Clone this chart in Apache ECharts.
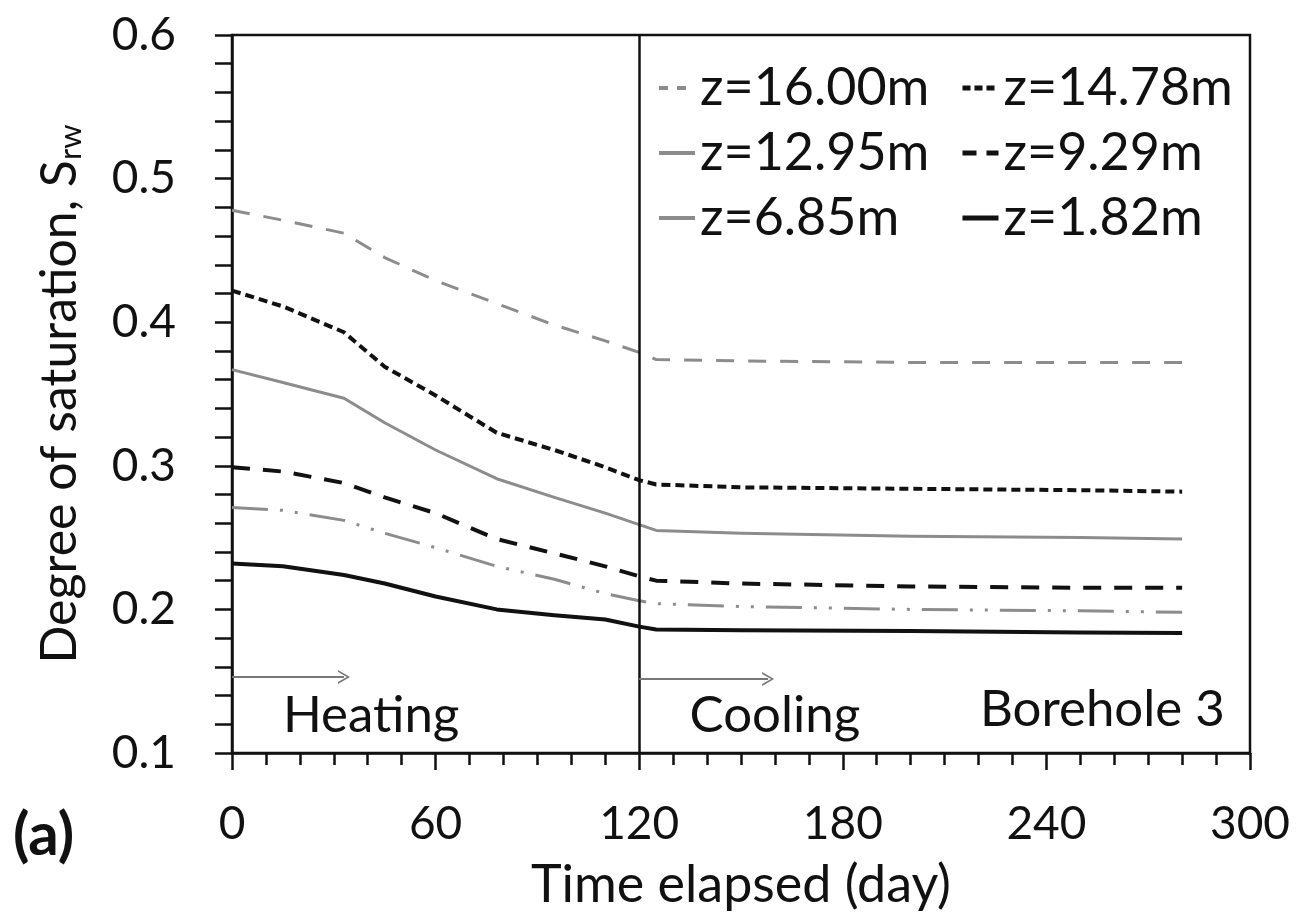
<!DOCTYPE html>
<html>
<head>
<meta charset="utf-8">
<script src="https://cdn.jsdelivr.net/npm/echarts@6/dist/echarts.min.js"></script>
<style>
html,body{margin:0;padding:0;background:#fff;}
#c{width:1304px;height:917px;}
</style>
</head>
<body>
<div id="c"></div>
<script>
// Time (day)
const time = [0, 15, 33, 45, 60, 78, 95, 110, 120, 125, 150, 200, 250, 280];
// Degree of saturation per depth
const z1600 = [0.478, 0.471, 0.462, 0.445, 0.429, 0.413, 0.398, 0.387, 0.379, 0.374, 0.373, 0.372, 0.372, 0.372];
const z1478 = [0.422, 0.411, 0.393, 0.369, 0.349, 0.323, 0.311, 0.299, 0.290, 0.287, 0.285, 0.284, 0.283, 0.282];
const z1295 = [0.367, 0.358, 0.347, 0.330, 0.311, 0.291, 0.278, 0.267, 0.259, 0.255, 0.253, 0.251, 0.250, 0.249];
const z929  = [0.299, 0.296, 0.288, 0.278, 0.267, 0.249, 0.239, 0.230, 0.223, 0.220, 0.218, 0.216, 0.215, 0.215];
const z685  = [0.271, 0.269, 0.262, 0.253, 0.243, 0.230, 0.221, 0.211, 0.206, 0.204, 0.202, 0.200, 0.199, 0.198];
const z182  = [0.232, 0.230, 0.224, 0.218, 0.209, 0.200, 0.196, 0.193, 0.188, 0.186, 0.1855, 0.185, 0.184, 0.1835];
const seriesNames = ['z=16.00m', 'z=14.78m', 'z=12.95m', 'z=9.29m', 'z=6.85m', 'z=1.82m'];
const xTicks = [0, 60, 120, 180, 240, 300];
const yTicks = [0.1, 0.2, 0.3, 0.4, 0.5, 0.6];
const phaseLabels = ['Heating', 'Cooling', 'Borehole 3'];

const GRAY = '#8c8c8c', BLACK = '#111';
const FONT = 'Lato';
function pairs(vals){ return time.map((t,i)=>[t, vals[i]]); }

const styles = [
  {data: z1600, color: GRAY, width: 3, type: [18, 14], legendType: [9, 9]},
  {data: z1478, color: BLACK, width: 4, type: [9, 5], legendType: [8, 4]},
  {data: z1295, color: GRAY, width: 3, type: 'solid', legendType: 'solid'},
  {data: z929, color: BLACK, width: 4, type: [18, 13], legendType: [14, 10]},
  {data: z685, color: GRAY, width: 3, type: [36, 12, 3, 12, 3, 12], legendType: 'solid'},
  {data: z182, color: BLACK, width: 4, type: 'solid', legendType: 'solid'}
];

const series = styles.map((s, i) => ({
  name: seriesNames[i],
  type: 'line',
  data: pairs(s.data),
  showSymbol: false,
  symbol: 'none',
  smooth: false,
  lineStyle: {color: s.color, width: s.width, type: s.type, join: 'round'},
  itemStyle: {color: s.color},
  z: 3
}));

const arrowHead = 'path://M5,0 L10,10 L8.6,10 L5,2.6 L1.4,10 L0,10 Z';
series.push({
  name: 'divider', type: 'line', data: [], silent: true,
  markLine: {
    silent: true, symbol: ['none', 'none'],
    label: {show: false},
    lineStyle: {color: BLACK, width: 2.5, type: 'solid'},
    data: [{xAxis: 120}]
  }
});
series.push({
  name: 'arrows', type: 'line', data: [], silent: true,
  markLine: {
    silent: true, symbol: ['none', arrowHead], symbolSize: [14, 12],
    label: {show: false},
    lineStyle: {color: '#777', width: 2, type: 'solid'},
    data: [
      [{coord: [0, 0.153]}, {coord: [33, 0.153]}],
      [{coord: [120, 0.1515]}, {coord: [158, 0.1515]}]
    ]
  },
  markPoint: {
    silent: true, symbol: 'rect', symbolSize: 1,
    itemStyle: {color: 'rgba(0,0,0,0)'},
    label: {show: true, position: 'inside', color: BLACK, fontFamily: FONT, fontSize: 51,
            formatter: p => p.name},
    data: [
      {name: phaseLabels[0], coord: [41, 0.126]},
      {name: phaseLabels[1], coord: [160, 0.126]},
      {name: phaseLabels[2], coord: [256.5, 0.130]}
    ]
  }
});

function legendItem(i){
  const s = styles[i];
  return {name: seriesNames[i], lineStyle: {color: s.color, width: s.width + 1, type: s.legendType}};
}
const legendText = {fontFamily: FONT, fontSize: 52, color: BLACK};
const legendCommon = {orient: 'vertical', top: 57, itemWidth: 36, itemHeight: 10, itemGap: 13,
  textStyle: legendText, selectedMode: false, itemStyle: {opacity: 0}};
const option = {
  animation: false,
  backgroundColor: '#fff',
  grid: {left: 232, right: 54, top: 35, bottom: 164, show: true, borderColor: BLACK, borderWidth: 2.5, backgroundColor: 'transparent'},
  legend: [
    Object.assign({data: [legendItem(0), legendItem(2), legendItem(4)], left: 652}, legendCommon),
    Object.assign({data: [legendItem(1), legendItem(3), legendItem(5)], left: 955}, legendCommon)
  ],
  xAxis: {
    type: 'value', min: xTicks[0], max: xTicks[xTicks.length-1], interval: 60,
    name: 'Time elapsed (day)', nameLocation: 'middle', nameGap: 106,
    nameTextStyle: {fontFamily: FONT, fontSize: 52, color: BLACK},
    axisLine: {show: true, lineStyle: {color: BLACK, width: 2.5}},
    axisTick: {show: true, length: 17, lineStyle: {color: BLACK, width: 2.5}},
    minorTick: {show: true, splitNumber: 6, length: 12, lineStyle: {color: BLACK, width: 2.5}},
    splitLine: {show: false},
    axisLabel: {fontFamily: FONT, fontSize: 46, color: BLACK, margin: 48,
                formatter: v => xTicks.includes(v) ? String(v) : ''}
  },
  yAxis: {
    type: 'value', min: yTicks[0], max: yTicks[yTicks.length-1], interval: 0.1,
    name: 'Degree of saturation, S{sub|rw}', nameLocation: 'middle', nameGap: 146, nameRotate: 90,
    nameTextStyle: {fontFamily: FONT, fontSize: 50, color: BLACK,
      rich: {sub: {fontFamily: FONT, fontSize: 31, color: BLACK, padding: [22, 0, 0, 0]}}},
    axisLine: {show: true, lineStyle: {color: BLACK, width: 2.5}},
    axisTick: {show: true, length: 17, lineStyle: {color: BLACK, width: 2.5}},
    minorTick: {show: true, splitNumber: 5, length: 17, lineStyle: {color: BLACK, width: 2.5}},
    splitLine: {show: false},
    axisLabel: {fontFamily: FONT, fontSize: 46, color: BLACK, margin: 56,
                formatter: v => v.toFixed(1)}
  },
  graphic: [
    {type: 'text', left: 13, top: 806, style: {text: '(a)', fontFamily: FONT, fontWeight: 'bold', fontSize: 60, fill: BLACK}}
  ],
  series: series
};

const chart = echarts.init(document.getElementById('c'), null, {renderer: 'canvas'});
chart.setOption(option);
</script>
</body>
</html>
